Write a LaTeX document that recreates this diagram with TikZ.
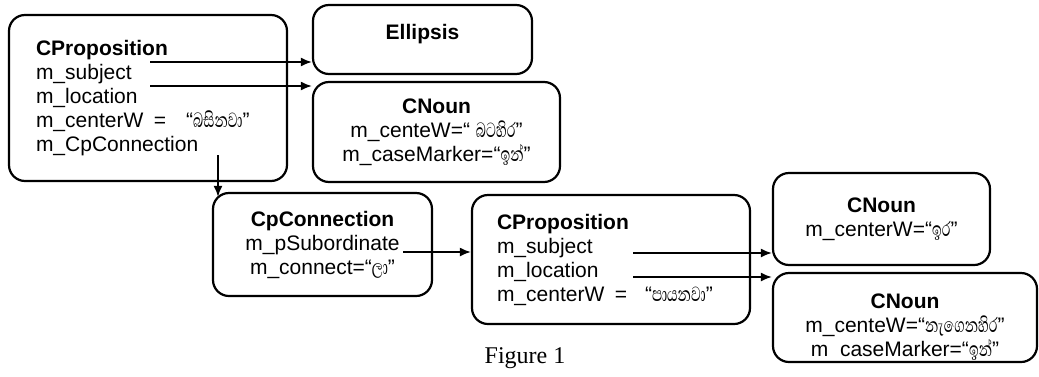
\documentclass[tikz,border=0pt]{standalone}
\usepackage{fontspec}
\setmainfont{Liberation Sans}
\newfontfamily\sinhala[Script=Sinhala, Scale=1.25, FakeStretch=0.66]{Abhaya Libre}
\newfontfamily\capfont{Liberation Serif}
\newcommand{\sinw}[1]{{\sinhala #1}}
\usetikzlibrary{arrows.meta}

\tikzset{
  cls/.style={draw, line width=1.1pt, rounded corners=8pt, inner ysep=0pt,
    font=\fontsize{10.5}{12}\selectfont},
  link/.style={line width=0.9pt, -{Latex[length=5.5pt,width=4.5pt]}}
}

\begin{document}
\begin{tikzpicture}[x=0.5pt,y=-0.5pt]
\useasboundingbox (0,0) rectangle (1039,376);

\node[cls, align=left, text width=112pt, inner xsep=13.5pt, minimum height=83pt] (prop1) at (148,98)
{\textbf{CProposition}\\
m\_subject\\
m\_location\\
\mbox{m\_centerW\,\ =\hspace{10pt}“\sinw{බසිනවා}”}\\
m\_CpConnection};

\node[cls, align=center, minimum width=109.5pt, minimum height=34.5pt, text depth=8pt] (ellipsis) at (422.5,39.5)
{\textbf{Ellipsis}};

\node[cls, align=center, minimum width=123.5pt, minimum height=50pt] (noun1) at (436.5,132)
{\textbf{CNoun}\\
m\_centeW=“ \sinw{බටහිර}”\\
m\_caseMarker=“\sinw{ඉන්}”};

\node[cls, align=center, minimum width=109.5pt, minimum height=51.5pt] (cpconn) at (322.5,244.5)
{\textbf{CpConnection}\\
m\_pSubordinate\\
m\_connect=“\sinw{ලා}”};

\node[cls, align=left, text width=114pt, inner xsep=12.5pt, minimum height=64.5pt] (prop2) at (611,259.5)
{\textbf{CProposition}\\
m\_subject\\
m\_location\\
\mbox{m\_centerW\,\ =\hspace{9pt}“\sinw{පායනවා}”}};

\node[cls, align=center, minimum width=108.5pt, minimum height=46pt] (noun2) at (881.5,219)
{\textbf{CNoun}\\
m\_centerW=“\sinw{ඉර}”};

\node[cls, align=center, minimum width=132pt, minimum height=44.5pt] (noun3) at (905,317.5)
{\rule{0pt}{17.5pt}\textbf{CNoun}\\
m\_centeW=“\sinw{නැගෙනහිර}”\\
m\ \ caseMarker=“\sinw{ඉන්}”\rule[-3pt]{0pt}{0pt}};

\node[font=\capfont\fontsize{12}{14}\selectfont] (caption) at (525,358) {Figure 1};

% start points of the links
\coordinate (p1subj) at (150,62);
\coordinate (p1loc) at (150,86);
\coordinate (p1conn) at (218,155);
\coordinate (cpsub) at (403,252);
\coordinate (p2subj) at (633,253);
\coordinate (p2loc) at (633,277);

\draw[link] (p1subj) -- (p1subj -| ellipsis.west);
\draw[link] (p1loc) -- (p1loc -| noun1.west);
\draw[link, shorten >=-2.5pt] (p1conn) -- (p1conn |- cpconn.north);
\draw[link] (cpsub) -- (cpsub -| prop2.west);
\draw[link] (p2subj) -- (p2subj -| noun2.west);
\draw[link] (p2loc) -- (p2loc -| noun3.west);
\end{tikzpicture}
\end{document}
